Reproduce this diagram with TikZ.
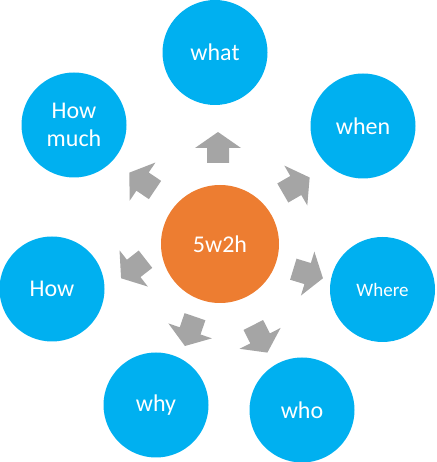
\documentclass[tikz,border=0pt]{standalone}
\usepackage{fontspec}
\setmainfont{Carlito}
\definecolor{bluec}{HTML}{00B0F0}
\definecolor{orangec}{HTML}{ED7D31}
\definecolor{grayc}{HTML}{A5A5A5}
\tikzset{
  outer/.style={circle, fill=bluec, draw=none, minimum size=105pt, inner sep=0pt, text=white, align=center, font=\fontsize{24}{28}\selectfont},
  hub/.style={circle, fill=orangec, draw=none, minimum size=118pt, inner sep=0pt, text=white, font=\fontsize{24}{28}\selectfont},
  blockarrow/.style={fill=grayc, draw=none}
}
\newcommand{\blockarr}[3]{%
  \fill[blockarrow, shift={(#1,#2)}, rotate=#3] (0,11) -- (15,11) -- (15,23) -- (31,0) -- (15,-23) -- (15,-11) -- (0,-11) -- cycle;}
\begin{document}
\begin{tikzpicture}[x=1pt, y=1pt]
\useasboundingbox (0,0) rectangle (436,462);
\node[hub] (c) at (220,218) {5w2h};
\node[outer] (what) at (215,409.5) {what};
\node[outer] (when) at (363,336) {when};
\node[outer, font=\fontsize{19}{22}\selectfont] (where) at (382.5,172.5) {Where};
\node[outer] (who) at (302,52) {who};
\node[outer] (why) at (156,57) {why};
\node[outer] (how) at (52,173) {How};
\node[outer] (howmuch) at (74,337) {How\\much};
\blockarr{218}{299}{90}
\blockarr{282.8}{269}{30}
\blockarr{293.3}{192.8}{-17}
\blockarr{253.3}{137}{-63}
\blockarr{195}{145.3}{-109}
\blockarr{145.5}{202.8}{-142}
\blockarr{155}{272}{146}
\end{tikzpicture}
\end{document}
